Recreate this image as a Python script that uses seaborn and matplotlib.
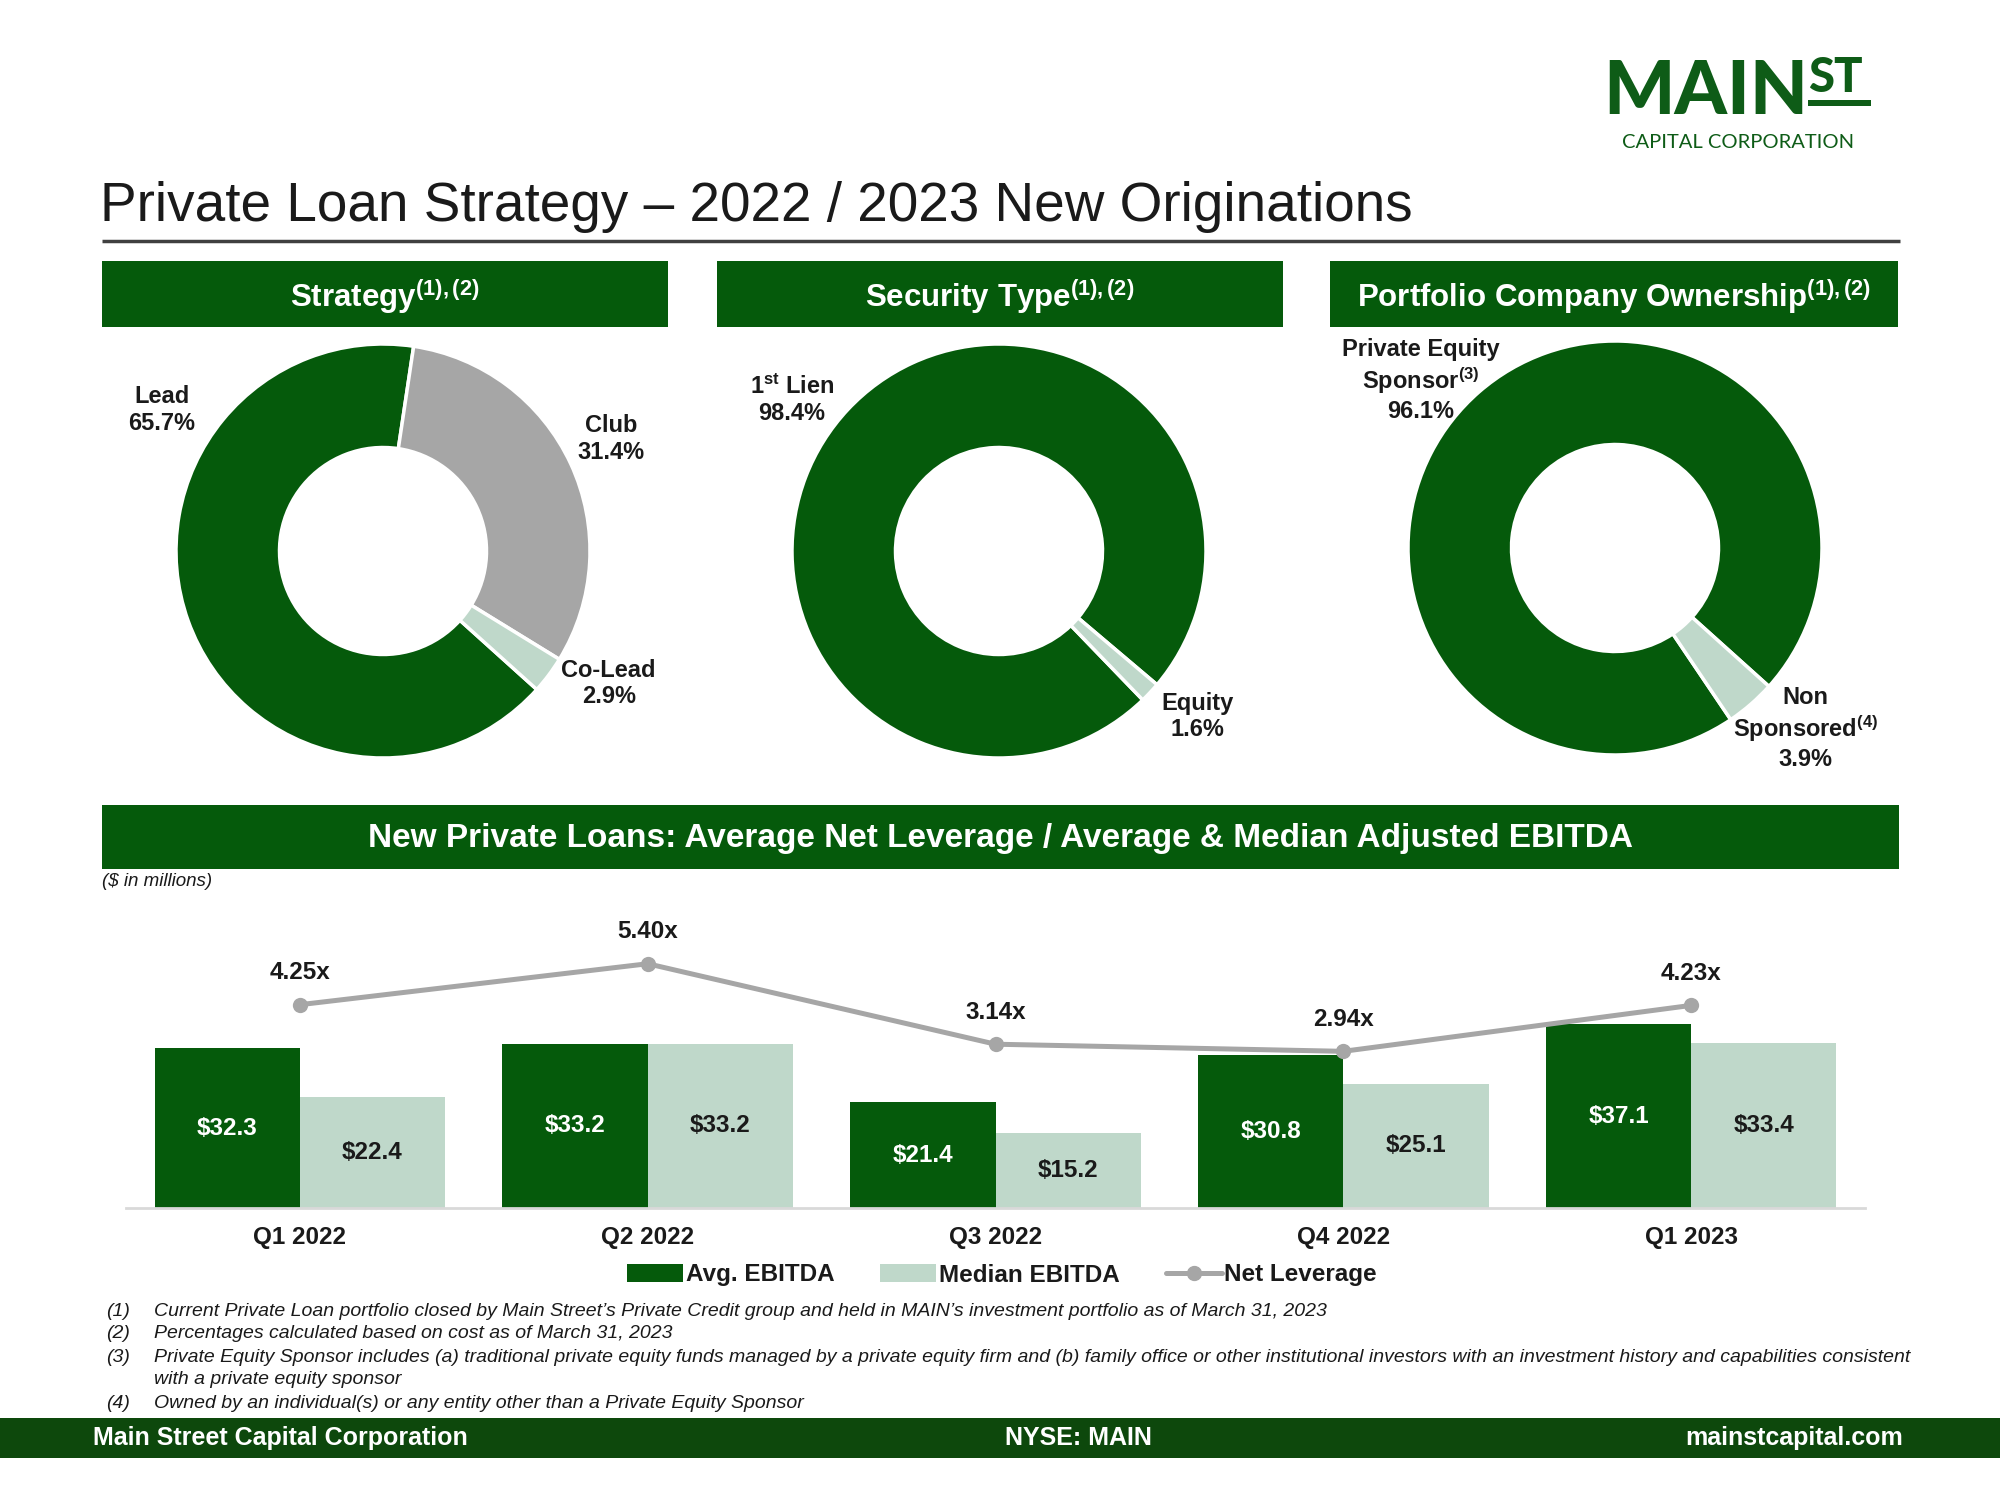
import numpy as np
import pandas as pd
import matplotlib
matplotlib.use("Agg")
import matplotlib.pyplot as plt
import seaborn as sns
from matplotlib.patches import Rectangle, Patch
from matplotlib.lines import Line2D

# ---------------- data ----------------
strategy_labels = ["Lead", "Club", "Co-Lead"]
strategy_values = [65.7, 31.4, 2.9]
security_labels = ["1$^{\\mathbf{st}}$ Lien", "Equity"]
security_values = [98.4, 1.6]
ownership_labels = ["Private Equity\nSponsor$^{\\mathbf{(3)}}$", "Non\nSponsored$^{\\mathbf{(4)}}$"]
ownership_values = [96.1, 3.9]

quarters = ["Q1 2022", "Q2 2022", "Q3 2022", "Q4 2022", "Q1 2023"]
avg_ebitda = [32.3, 33.2, 21.4, 30.8, 37.1]
median_ebitda = [22.4, 33.2, 15.2, 25.1, 33.4]
net_leverage = [4.25, 5.40, 3.14, 2.94, 4.23]

footnotes = [
    ("(1)", "Current Private Loan portfolio closed by Main Street\u2019s Private Credit group and held in MAIN\u2019s investment portfolio as of March 31, 2023"),
    ("(2)", "Percentages calculated based on cost as of March 31, 2023"),
    ("(3)", "Private Equity Sponsor includes (a) traditional private equity funds managed by a private equity firm and (b) family office or other institutional investors with an investment history and capabilities consistent"),
    ("", "with a private equity sponsor"),
    ("(4)", "Owned by an individual(s) or any entity other than a Private Equity Sponsor"),
]

# ---------------- style ----------------
sns.set_theme(style="white")
plt.rcParams["font.family"] = ["Liberation Sans", "DejaVu Sans"]
plt.rcParams["mathtext.fontset"] = "custom"
plt.rcParams["mathtext.rm"] = "Liberation Sans"
plt.rcParams["mathtext.bf"] = "Liberation Sans:bold"
plt.rcParams["mathtext.it"] = "Liberation Sans:italic"

DARK = "#055A0B"
LIGHT = "#BFD8CA"
GRAY = "#A6A6A6"
FOOT = "#0D480C"
TXT = "#1A1A1A"
LOGO = "#0E5C17"

W, H = 2000, 1500
fig = plt.figure(figsize=(20, 15), dpi=100)
fig.patch.set_facecolor("white")


def px_axes(x0, y0, x1, y1, **kw):
    return fig.add_axes([x0 / W, 1 - y1 / H, (x1 - x0) / W, (y1 - y0) / H], **kw)


bg = px_axes(0, 0, W, H)
bg.set_xlim(0, W)
bg.set_ylim(H, 0)
bg.axis("off")
bg.set_zorder(0)

# ---------------- logo ----------------
bg.text(1603, 114, "MAIN", fontsize=54, fontweight="black", family=["Lato", "DejaVu Sans"],
        color=LOGO, ha="left", va="baseline")
bg.text(1808, 92, "ST", fontsize=34, fontweight="black", family=["Lato", "DejaVu Sans"],
        color=LOGO, ha="left", va="baseline")
bg.add_patch(Rectangle((1808, 100), 63, 6, color=LOGO, lw=0))
bg.text(1738, 142, "CAPITAL CORPORATION", fontsize=14.5, family=["Lato", "DejaVu Sans"],
        color=LOGO, ha="center", va="center")

# ---------------- title ----------------
bg.text(100, 207, "Private Loan Strategy \u2013 2022 / 2023 New Originations", fontsize=39.5,
        color=TXT, ha="left", va="center")
bg.plot([102, 1900], [241, 241], color="#404040", lw=2.5, solid_capstyle="butt")

# ---------------- section headers ----------------
headers = [
    ((102, 668), "Strategy$^{\\mathbf{(1),(2)}}$"),
    ((717, 1283), "Security Type$^{\\mathbf{(1),(2)}}$"),
    ((1330, 1898), "Portfolio Company Ownership$^{\\mathbf{(1),(2)}}$"),
]
for (x0, x1), label in headers:
    bg.add_patch(Rectangle((x0, 261), x1 - x0, 66, color=DARK, lw=0))
    bg.text((x0 + x1) / 2, 296, label, fontsize=22.5, fontweight="bold", color="white",
            ha="center", va="center")

bg.add_patch(Rectangle((102, 805), 1797, 64, color=DARK, lw=0))
bg.text(1000, 838, "New Private Loans: Average Net Leverage / Average & Median Adjusted EBITDA",
        fontsize=24, fontweight="bold", color="white", ha="center", va="center")
bg.text(102, 881, "($ in millions)", fontsize=13.5, style="italic", color=TXT, ha="left", va="center")

# ---------------- donuts ----------------
R = 207
LIM = 1.3


def donut(cx, cy, values, colors, start, labels, label_pos):
    s = R * LIM
    ax = px_axes(cx - s, cy - s, cx + s, cy + s)
    ax.set_zorder(2)
    ax.pie(values, colors=colors, startangle=start, counterclock=False, radius=1,
           wedgeprops=dict(width=0.5, edgecolor="white", linewidth=2.5))
    ax.set_xlim(-LIM, LIM)
    ax.set_ylim(-LIM, LIM)
    ax.set_aspect("equal")
    ax.axis("off")
    for lab, v, (lx, ly) in zip(labels, values, label_pos):
        ax.text(lx, ly, f"{lab}\n{v:.1f}%", ha="center", va="center", fontsize=17,
                fontweight="bold", color=TXT, linespacing=1.2, clip_on=False)


donut(383, 551, strategy_values, [DARK, GRAY, LIGHT], -42, strategy_labels,
      [(-1.07, 0.68), (1.10, 0.54), (1.09, -0.64)])
donut(999, 551, security_values, [DARK, LIGHT], -46, security_labels,
      [(-1.0, 0.73), (0.96, -0.80)])
donut(1615, 548, ownership_values, [DARK, LIGHT], -56, ownership_labels,
      [(-0.94, 0.81), (0.92, -0.87)])

# ---------------- bar + line chart ----------------
ax = px_axes(126, 900, 1865, 1208)
ax.set_zorder(2)
ax.patch.set_alpha(0)
df = pd.DataFrame({
    "quarter": quarters * 2,
    "value": avg_ebitda + median_ebitda,
    "series": ["Avg. EBITDA"] * len(quarters) + ["Median EBITDA"] * len(quarters),
})
sns.barplot(data=df, x="quarter", y="value", hue="series", palette=[DARK, LIGHT],
            width=0.835, saturation=1, errorbar=None, legend=False, ax=ax, linewidth=0)
ax.set_xlim(-0.5, len(quarters) - 0.5)
ax.set_ylim(0, 62.2)
ax.bar_label(ax.containers[0], labels=[f"${v:.1f}" for v in avg_ebitda], label_type="center",
             color="white", fontsize=17.5, fontweight="bold")
ax.bar_label(ax.containers[1], labels=[f"${v:.1f}" for v in median_ebitda], label_type="center",
             color=TXT, fontsize=17.5, fontweight="bold")
for sp in ["top", "right", "left"]:
    ax.spines[sp].set_visible(False)
ax.spines["bottom"].set_color("#D9D9D9")
ax.spines["bottom"].set_linewidth(2)
ax.set_yticks([])
ax.set_xlabel("")
ax.set_ylabel("")
ax.tick_params(axis="x", length=0, pad=13, labelsize=17.5, labelcolor=TXT)
for t in ax.get_xticklabels():
    t.set_fontweight("bold")

ax2 = ax.twinx()
ax2.set_zorder(3)
ax2.patch.set_alpha(0)
xpos = np.arange(len(quarters))
sns.lineplot(x=xpos, y=net_leverage, ax=ax2, color=GRAY, linewidth=3.6, marker="o",
             markersize=11, markeredgewidth=0, legend=False)
ax2.set_ylim(-1.46, 7.19)
ax2.set_xlim(-0.5, len(quarters) - 0.5)
for sp in ax2.spines.values():
    sp.set_visible(False)
ax2.set_yticks([])
ax2.set_ylabel("")
for xi, v in zip(xpos, net_leverage):
    ax2.annotate(f"{v:.2f}x", (xi, v), xytext=(0, 23), textcoords="offset points",
                 ha="center", va="center", fontsize=17.5, fontweight="bold", color=TXT)

handles = [
    Patch(facecolor=DARK, edgecolor="none", label="Avg. EBITDA"),
    Patch(facecolor=LIGHT, edgecolor="none", label="Median EBITDA"),
    Line2D([0], [0], color=GRAY, lw=3.6, marker="o", markersize=10, label="Net Leverage"),
]
leg = fig.legend(handles=handles, loc="center", bbox_to_anchor=(1002 / W, 1 - 1275 / H), ncol=3,
                 frameon=False, handlelength=2.3, handletextpad=0.1,
                 columnspacing=1.9, prop={"weight": "bold", "size": 17.5})
for t in leg.get_texts():
    t.set_color(TXT)

# ---------------- footnotes ----------------
ys = [1311, 1334, 1357, 1380, 1403]
for y, (num, txt) in zip(ys, footnotes):
    if num:
        bg.text(106, y, num, fontsize=14, style="italic", color=TXT, ha="left", va="center")
    bg.text(154, y, txt, fontsize=14, style="italic", color=TXT, ha="left", va="center")

# ---------------- footer ----------------
bg.add_patch(Rectangle((0, 1418), W, 40, color=FOOT, lw=0))
bg.text(93, 1438, "Main Street Capital Corporation", fontsize=18, fontweight="bold", color="white",
        ha="left", va="center")
bg.text(1078, 1438, "NYSE: MAIN", fontsize=18, fontweight="bold", color="white", ha="center", va="center")
bg.text(1903, 1438, "mainstcapital.com", fontsize=18, fontweight="bold", color="white",
        ha="right", va="center")

fig.savefig("out.png", dpi=100, facecolor="white")
